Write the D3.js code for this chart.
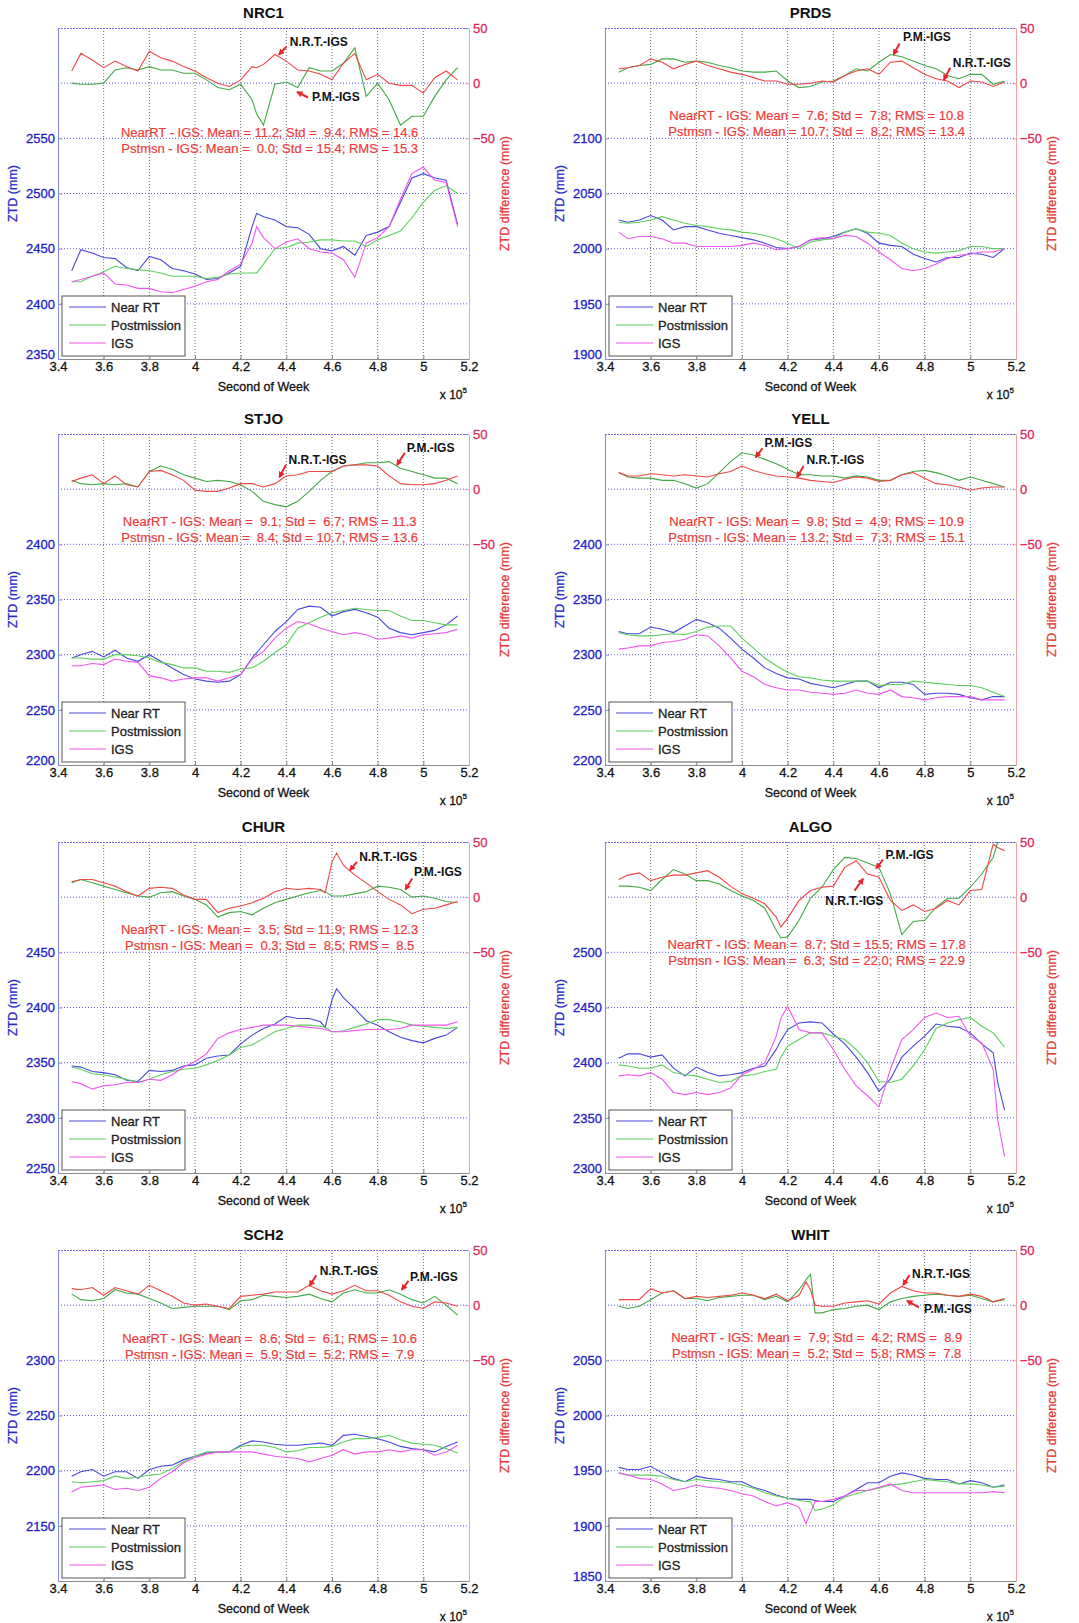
<!DOCTYPE html>
<html>
<head>
<meta charset="utf-8">
<script src="https://cdn.jsdelivr.net/npm/d3@7"></script>
<style>
  body { margin: 0; background: #fff; }
  svg text { font-family: "Liberation Sans", Arial, sans-serif; }
</style>
</head>
<body>
<script>
// ---- data (seconds of week in units of 1e5, ZTD in mm, differences in mm) ----
const secBase = [3.46,3.5,3.55,3.6,3.65,3.7,3.75,3.8,3.85,3.9,3.95,4.0,4.05,4.1,4.15,4.2,4.25,4.3,4.35,4.4,4.45,4.5,4.55,4.6,4.65,4.7,4.75,4.8,4.85,4.9,4.95,5.0,5.05,5.1,5.15];
const nrc1Sec = [3.46,3.5,3.55,3.6,3.65,3.7,3.75,3.8,3.85,3.9,3.95,4.0,4.05,4.1,4.15,4.2,4.25,4.27,4.3,4.35,4.4,4.45,4.5,4.55,4.6,4.65,4.7,4.75,4.8,4.85,4.9,4.95,5.0,5.05,5.1,5.15];
const churSec = [3.46,3.5,3.55,3.6,3.65,3.7,3.75,3.8,3.85,3.9,3.95,4.0,4.05,4.1,4.15,4.2,4.25,4.3,4.35,4.4,4.45,4.5,4.55,4.57,4.6,4.62,4.65,4.7,4.75,4.8,4.85,4.9,4.95,5.0,5.05,5.1,5.15];
const algoSec = [3.46,3.5,3.55,3.6,3.65,3.7,3.75,3.8,3.85,3.9,3.95,4.0,4.05,4.1,4.15,4.17,4.2,4.25,4.3,4.35,4.4,4.45,4.5,4.55,4.6,4.65,4.7,4.75,4.8,4.85,4.9,4.95,5.0,5.05,5.1,5.12,5.15];
const whitSec = [3.46,3.5,3.55,3.6,3.65,3.7,3.75,3.8,3.85,3.9,3.95,4.0,4.05,4.1,4.15,4.2,4.25,4.28,4.3,4.32,4.35,4.4,4.45,4.5,4.55,4.6,4.65,4.7,4.75,4.8,4.85,4.9,4.95,5.0,5.05,5.1,5.15];

const nrc1NearRT = [2430,2449,2446,2442,2441,2433,2430,2443,2440,2432,2430,2427,2422,2423,2428,2434,2470,2482,2479,2476,2470,2469,2463,2450,2448,2452,2444,2462,2465,2470,2492,2514,2518,2514,2512,2472];
const nrc1Post   = [2420,2420,2425,2429,2434,2432,2431,2430,2428,2425,2425,2425,2423,2424,2427,2428,2428,2428,2436,2450,2451,2455,2456,2458,2458,2457,2457,2452,2458,2462,2466,2478,2492,2503,2507,2500];
const nrc1IGS    = [2420,2422,2425,2428,2418,2417,2414,2414,2411,2410,2413,2416,2420,2422,2430,2436,2455,2470,2460,2450,2456,2459,2450,2447,2446,2440,2424,2455,2460,2470,2495,2518,2524,2512,2510,2470];
const nrc1NrtDiff = [11,27,21,14,20,15,11,29,23,20,15,11,5,0,-3,3,15,14,17,26,20,12,11,8,3,18,27,3,8,0,-2,-2,-9,5,11,3];
const nrc1PmDiff  = [0,-1,-1,0,12,14,12,15,12,12,9,9,3,-4,-6,-1,-15,-28,-38,-1,1,-4,14,11,11,18,32,-12,0,-15,-38,-30,-30,-12,3,14];

const prdsNearRT = [2026,2024,2026,2030,2026,2017,2020,2020,2017,2014,2012,2010,2008,2005,2001,2000,2002,2008,2009,2011,2015,2018,2014,2005,2003,2002,1995,1991,1988,1992,1992,1996,1995,1992,2000];
const prdsPost   = [2024,2023,2024,2026,2029,2026,2023,2021,2020,2018,2017,2015,2014,2012,2009,2005,2000,2006,2008,2009,2015,2018,2015,2014,2012,2005,2000,1997,1996,1997,1998,2002,2002,2000,2000];
const prdsIGS    = [2015,2009,2011,2011,2009,2005,2005,2002,2002,2002,2002,2003,2005,2003,1999,2000,2002,2008,2010,2009,2012,2011,2005,1997,1990,1982,1980,1982,1986,1991,1994,1995,1997,1997,2000];
const prdsNrtDiff = [13,14,16,22,19,13,17,20,16,13,10,8,5,2,2,-1,-1,0,2,1,7,11,13,8,19,20,14,8,4,2,-4,2,1,-3,1];
const prdsPmDiff  = [10,14,16,17,22,22,19,20,19,16,14,11,10,10,11,2,-4,-3,1,2,7,13,11,19,26,24,20,16,13,7,4,8,8,-1,2];

const stjoNearRT = [2297,2300,2303,2298,2304,2297,2294,2300,2294,2288,2282,2278,2276,2275,2276,2282,2297,2309,2321,2330,2341,2344,2343,2335,2339,2341,2338,2334,2324,2320,2318,2320,2322,2327,2335];
const stjoPost   = [2297,2297,2296,2296,2300,2300,2299,2297,2293,2291,2288,2288,2285,2285,2284,2287,2288,2294,2302,2309,2324,2329,2334,2338,2340,2342,2341,2340,2340,2335,2331,2331,2329,2327,2327];
const stjoIGS    = [2290,2290,2292,2291,2296,2294,2293,2281,2279,2276,2278,2279,2279,2276,2279,2282,2296,2303,2315,2324,2330,2328,2324,2321,2318,2320,2318,2314,2315,2317,2315,2318,2319,2320,2323];
const stjoNrtDiff = [7,10,13,5,12,4,2,16,17,13,8,-1,-2,-2,1,5,5,2,5,12,13,16,16,16,21,22,22,21,12,5,4,4,5,8,12];
const stjoPmDiff  = [8,5,4,5,4,5,2,16,21,18,13,10,7,8,7,4,-2,-11,-14,-16,-11,-2,8,16,21,22,24,24,25,19,16,13,10,10,5];

const yellNearRT = [2321,2319,2319,2325,2323,2320,2326,2332,2329,2324,2315,2305,2297,2288,2283,2279,2278,2274,2272,2270,2273,2276,2276,2270,2275,2275,2273,2264,2265,2265,2264,2261,2259,2262,2262];
const yellPost   = [2320,2318,2317,2317,2318,2319,2318,2321,2325,2326,2326,2315,2306,2297,2290,2284,2280,2279,2277,2276,2276,2276,2276,2272,2273,2273,2276,2275,2274,2273,2272,2272,2270,2266,2262];
const yellIGS    = [2305,2306,2308,2308,2311,2312,2314,2318,2317,2308,2297,2285,2280,2273,2270,2268,2268,2266,2265,2264,2265,2268,2265,2264,2268,2262,2261,2259,2261,2262,2262,2262,2259,2259,2259];
const yellNrtDiff = [15,12,12,14,13,12,13,12,11,14,16,21,17,14,12,11,10,8,7,6,9,11,10,7,8,13,15,10,5,4,2,-1,1,2,2];
const yellPmDiff  = [15,11,10,10,8,8,5,1,5,15,25,33,31,27,23,18,13,13,12,12,10,12,11,8,8,13,16,17,15,12,8,11,8,5,2];

const churNearRT = [2347,2346,2342,2341,2339,2334,2333,2343,2342,2343,2347,2348,2354,2356,2357,2367,2375,2381,2385,2392,2390,2390,2387,2382,2407,2417,2409,2399,2388,2384,2378,2373,2370,2368,2372,2375,2382];
const churPost   = [2346,2344,2340,2339,2337,2335,2332,2335,2339,2342,2344,2345,2348,2352,2357,2364,2366,2372,2378,2381,2384,2384,2383,2382,2378,2378,2379,2382,2385,2389,2389,2387,2384,2383,2382,2381,2382];
const churIGS    = [2333,2331,2326,2329,2330,2332,2332,2335,2334,2339,2346,2351,2358,2372,2377,2380,2382,2384,2384,2384,2383,2382,2381,2380,2378,2378,2378,2379,2380,2380,2380,2381,2384,2384,2384,2384,2387];
const churNrtDiff = [14,16,16,13,10,5,1,8,9,8,2,-2,-2,-14,-10,-8,-5,-1,5,8,7,8,7,4,32,40,29,20,13,5,-2,-7,-15,-11,-10,-7,-4];
const churPmDiff  = [13,16,13,10,7,4,1,0,4,5,1,-2,-7,-18,-14,-13,-16,-10,-5,-2,1,4,6,5,1,1,1,3,5,10,9,7,0,1,-1,-4,-5];

const algoNearRT = [2404,2408,2408,2405,2407,2395,2388,2396,2391,2388,2389,2391,2395,2397,2412,2420,2430,2436,2437,2436,2426,2417,2405,2391,2374,2385,2405,2415,2424,2435,2433,2432,2427,2417,2409,2382,2357];
const algoPost   = [2398,2397,2395,2395,2398,2391,2389,2388,2385,2382,2383,2388,2389,2392,2394,2405,2415,2421,2427,2427,2424,2421,2412,2400,2383,2382,2385,2397,2412,2431,2436,2439,2441,2433,2427,2422,2414];
const algoIGS    = [2388,2389,2388,2391,2385,2373,2371,2373,2371,2373,2377,2389,2394,2400,2424,2440,2451,2430,2427,2427,2412,2394,2379,2370,2360,2394,2421,2430,2441,2445,2441,2442,2424,2418,2394,2348,2315];
const algoNrtDiff = [16,20,22,15,18,20,20,22,24,18,10,3,-1,-6,-18,-27,-19,-3,6,9,10,27,33,21,18,-3,-12,-7,-13,-10,-3,-7,6,7,48,45,42];
const algoPmDiff  = [10,10,9,6,16,25,21,15,15,12,6,1,-3,-10,-30,-37,-36,-21,-1,9,25,36,35,31,27,3,-34,-22,-21,-9,-1,-1,9,21,36,50,50];

const sch2NearRT = [2195,2199,2201,2195,2199,2199,2193,2201,2204,2205,2210,2213,2216,2217,2217,2223,2227,2226,2224,2223,2223,2224,2225,2223,2232,2233,2231,2229,2226,2222,2220,2219,2217,2222,2226];
const sch2Post   = [2190,2189,2190,2191,2195,2193,2194,2196,2197,2202,2208,2213,2217,2217,2217,2222,2223,2223,2221,2217,2218,2221,2221,2222,2226,2229,2229,2230,2232,2228,2225,2224,2223,2220,2216];
const sch2IGS    = [2181,2185,2186,2187,2183,2184,2182,2185,2193,2199,2207,2212,2215,2217,2217,2217,2217,2215,2213,2212,2211,2208,2211,2214,2219,2215,2217,2217,2219,2217,2219,2219,2214,2217,2223];
const sch2NrtDiff = [15,14,16,9,16,13,10,18,13,8,2,0,1,-1,-3,8,9,10,12,12,12,18,13,10,13,18,13,13,9,3,-1,-3,3,2,-1];
const sch2PmDiff  = [10,5,4,6,14,11,10,6,2,-3,-2,-1,-1,-1,-4,4,5,9,8,7,8,10,6,3,11,14,11,11,14,10,5,2,8,0,-9];

const whitNearRT = [1953,1951,1951,1954,1948,1943,1940,1945,1943,1942,1940,1940,1935,1932,1928,1925,1924,1924,1924,1923,1922,1922,1927,1933,1939,1939,1945,1948,1946,1943,1942,1942,1938,1941,1939,1935,1937];
const whitPost   = [1948,1946,1946,1946,1945,1942,1940,1942,1941,1940,1939,1937,1934,1930,1927,1925,1923,1922,1922,1914,1915,1919,1926,1929,1932,1934,1937,1938,1940,1942,1941,1940,1938,1938,1937,1935,1936];
const whitIGS    = [1948,1946,1943,1942,1938,1932,1934,1937,1935,1934,1932,1929,1927,1922,1918,1921,1917,1902,1912,1922,1922,1924,1927,1932,1932,1935,1938,1932,1930,1930,1930,1930,1930,1930,1930,1931,1930];
const whitNrtDiff = [5,5,5,15,11,13,6,8,7,8,9,11,9,6,10,4,9,21,14,0,-1,-1,2,3,4,1,11,17,13,11,11,9,8,10,8,3,6];
const whitPmDiff  = [-1,-3,-1,5,11,13,6,6,4,7,8,9,9,5,8,3,14,23,28,-7,-7,-4,-3,-1,0,-4,3,6,8,9,10,9,8,9,6,3,5];

const stations = ["NRC1", "PRDS", "STJO", "YELL", "CHUR", "ALGO", "SCH2", "WHIT"];
const ztdFloor = [2350, 1900, 2200, 2200, 2250, 2300, 2100, 1850];
const ztdTickLabels = [
  [2350, 2400, 2450, 2500, 2550],
  [1900, 1950, 2000, 2050, 2100],
  [2200, 2250, 2300, 2350, 2400],
  [2200, 2250, 2300, 2350, 2400],
  [2250, 2300, 2350, 2400, 2450],
  [2300, 2350, 2400, 2450, 2500],
  [2150, 2200, 2250, 2300],
  [1850, 1900, 1950, 2000, 2050]
];
const secTicks = [3.4, 3.6, 3.8, 4.0, 4.2, 4.4, 4.6, 4.8, 5.0, 5.2];
const diffTicks = [-50, 0, 50];
// [mean, std, rms]
const nrtStats = [[11.2, 9.4, 14.6], [7.6, 7.8, 10.8], [9.1, 6.7, 11.3], [9.8, 4.9, 10.9], [3.5, 11.9, 12.3], [8.7, 15.5, 17.8], [8.6, 6.1, 10.6], [7.9, 4.2, 8.9]];
const pmStats  = [[0.0, 15.4, 15.3], [10.7, 8.2, 13.4], [8.4, 10.7, 13.6], [13.2, 7.3, 15.1], [0.3, 8.5, 8.5], [6.3, 22.0, 22.9], [5.9, 5.2, 7.9], [5.2, 5.8, 7.8]];
const seriesNames = ["Near RT", "Postmission", "IGS"];

const stationSec = [nrc1Sec, secBase, secBase, secBase, churSec, algoSec, secBase, whitSec];
const nearRT = [nrc1NearRT, prdsNearRT, stjoNearRT, yellNearRT, churNearRT, algoNearRT, sch2NearRT, whitNearRT];
const postmission = [nrc1Post, prdsPost, stjoPost, yellPost, churPost, algoPost, sch2Post, whitPost];
const igs = [nrc1IGS, prdsIGS, stjoIGS, yellIGS, churIGS, algoIGS, sch2IGS, whitIGS];
const nrtDiff = [nrc1NrtDiff, prdsNrtDiff, stjoNrtDiff, yellNrtDiff, churNrtDiff, algoNrtDiff, sch2NrtDiff, whitNrtDiff];
const pmDiff = [nrc1PmDiff, prdsPmDiff, stjoPmDiff, yellPmDiff, churPmDiff, algoPmDiff, sch2PmDiff, whitPmDiff];

// ---- layout ----
const W = 1079, H = 1623;
const colLeft = [58, 605], rowTop = [28, 434, 842, 1250];
const plotW = 411, plotH = 331;
// stats text level (first line centre, in difference mm)
const statsLevel = [-44.5, -29, -29.5, -29, -29, -43, -30, -29];
// callouts anchored in data units: text left/baseline, arrow tail -> tip
const callouts = [
  [{t: "N.R.T.-IGS", at: [4.415, 34], from: [4.40, 33], to: [4.368, 26]},
   {t: "P.M.-IGS", at: [4.512, -16], from: [4.495, -13], to: [4.448, -8]}],
  [{t: "P.M.-IGS", at: [4.705, 38], from: [4.69, 36], to: [4.664, 26]},
   {t: "N.R.T.-IGS", at: [4.923, 15], from: [4.912, 14], to: [4.884, 3]}],
  [{t: "N.R.T.-IGS", at: [4.41, 23], from: [4.398, 22], to: [4.37, 11]},
   {t: "P.M.-IGS", at: [4.927, 34], from: [4.919, 33], to: [4.885, 22]}],
  [{t: "P.M.-IGS", at: [4.098, 38], from: [4.09, 37], to: [4.06, 29]},
   {t: "N.R.T.-IGS", at: [4.282, 23], from: [4.27, 21], to: [4.241, 11]}],
  [{t: "N.R.T.-IGS", at: [4.719, 33], from: [4.709, 32], to: [4.679, 24.5]},
   {t: "P.M.-IGS", at: [4.959, 19], from: [4.951, 17], to: [4.922, 7]}],
  [{t: "P.M.-IGS", at: [4.629, 35], from: [4.617, 34], to: [4.588, 26]},
   {t: "N.R.T.-IGS", at: [4.365, -7], from: [4.493, 6], to: [4.53, 16.5]}],
  [{t: "N.R.T.-IGS", at: [4.546, 27], from: [4.531, 27], to: [4.502, 17.6]},
   {t: "P.M.-IGS", at: [4.942, 22], from: [4.935, 22], to: [4.906, 14]}],
  [{t: "N.R.T.-IGS", at: [4.745, 25], from: [4.734, 27.4], to: [4.706, 18.4]},
   {t: "P.M.-IGS", at: [4.797, -7], from: [4.775, -2], to: [4.723, 4]}]
];

const ztdColors = ["#4848dc", "#5cd05c", "#f055f0"];
const nrtDiffColor = "#f04646", pmDiffColor = "#44a844";
const fmt = d3.format("4.1f");

// thicken text a little, the reference type looks heavy
const heavy = (sel, color, w = 0.3) =>
  sel.attr("fill", color).attr("stroke", color).attr("stroke-width", w);

const svg = d3.select("body").append("svg").attr("width", W).attr("height", H);
const defs = svg.append("defs");
defs.append("marker")
  .attr("id", "arrow")
  .attr("viewBox", "0 0 10 10")
  .attr("refX", 8).attr("refY", 5)
  .attr("markerWidth", 3.2).attr("markerHeight", 3.2)
  .attr("orient", "auto")
  .append("path").attr("d", "M0,0L10,5L0,10z").attr("fill", "#e8242c");

stations.forEach((name, i) => {
  const col = i % 2, row = Math.floor(i / 2);
  const sec = stationSec[i];
  const g = svg.append("g").attr("transform", `translate(${colLeft[col]},${rowTop[row]})`);

  const x = d3.scaleLinear().domain([3.4, 5.2]).range([0, plotW]);
  const yL = d3.scaleLinear().domain([ztdFloor[i], ztdFloor[i] + 300]).range([plotH, 0]);
  const yR = d3.scaleLinear().domain([-250, 50]).range([plotH, 0]);

  defs.append("clipPath").attr("id", "clip" + i)
    .append("rect").attr("width", plotW).attr("height", plotH);

  // grid
  g.append("g").selectAll("line").data(secTicks.slice(1, -1)).join("line")
    .attr("x1", d => x(d)).attr("x2", d => x(d))
    .attr("y1", 0).attr("y2", plotH)
    .attr("stroke", "#5a5a5a").attr("stroke-width", 0.9)
    .attr("stroke-dasharray", "1,2");
  const gridVals = d3.range(ztdFloor[i] + 50, ztdFloor[i] + 300, 50);
  g.append("g").selectAll("line").data(gridVals).join("line")
    .attr("x1", 0).attr("x2", plotW)
    .attr("y1", d => yL(d)).attr("y2", d => yL(d))
    .attr("stroke", "#4a4af0").attr("stroke-width", 0.9)
    .attr("stroke-dasharray", "1,2");

  const plot = g.append("g").attr("clip-path", `url(#clip${i})`);
  const ztdLine = d3.line().x((d, j) => x(sec[j])).y(d => yL(d));
  const diffLine = d3.line().x((d, j) => x(sec[j])).y(d => yR(d));

  [nearRT[i], postmission[i], igs[i]].forEach((s, k) => {
    plot.append("path").datum(s)
      .attr("d", ztdLine)
      .attr("fill", "none")
      .attr("stroke", ztdColors[k])
      .attr("stroke-width", 1.1);
  });
  plot.append("path").datum(pmDiff[i])
    .attr("d", diffLine).attr("fill", "none")
    .attr("stroke", pmDiffColor).attr("stroke-width", 1.1);
  plot.append("path").datum(nrtDiff[i])
    .attr("d", diffLine).attr("fill", "none")
    .attr("stroke", nrtDiffColor).attr("stroke-width", 1.1);

  // axes
  const styleAxis = (sel, domainColor, textColor) => {
    sel.attr("font-family", null).attr("font-size", null);
    sel.select(".domain").attr("stroke", domainColor);
    sel.selectAll(".tick line").attr("stroke", domainColor);
    sel.selectAll("text").attr("font-size", 13).call(heavy, textColor);
  };

  g.append("g").attr("transform", `translate(0,${plotH})`)
    .call(d3.axisBottom(x).tickValues(secTicks).tickFormat(d3.format("~g"))
      .tickSizeInner(-4).tickSizeOuter(0).tickPadding(3))
    .call(a => styleAxis(a, "#8a8a8a", "#111"));

  g.append("g")
    .call(d3.axisLeft(yL).tickValues(ztdTickLabels[i]).tickFormat(d3.format("d"))
      .tickSizeInner(-4).tickSizeOuter(0).tickPadding(3))
    .call(a => styleAxis(a, "#8686ee", "#2020c8"))
    // lift the lowest label a little so it clears the 3.4 label
    .call(a => a.selectAll(".tick text").filter(d => d === ztdFloor[i]).attr("dy", "-0.05em"));

  g.append("g").attr("transform", `translate(${plotW},0)`)
    .call(d3.axisRight(yR).tickValues(diffTicks)
      .tickSizeInner(-4).tickSizeOuter(0).tickPadding(4))
    .call(a => styleAxis(a, "#f2a0a0", "#e0285a"));

  g.append("line").attr("x1", 0).attr("x2", plotW).attr("y1", 0.5).attr("y2", 0.5)
    .attr("stroke", "#6a6ae8").attr("stroke-width", 1.2).attr("stroke-dasharray", "2,1");

  // titles and labels
  g.append("text").attr("x", plotW / 2).attr("y", -10)
    .attr("text-anchor", "middle").attr("font-size", 15).attr("font-weight", "bold")
    .attr("fill", "#111").text(name);

  g.append("text").attr("transform", `translate(-45,${plotH / 2}) rotate(-90)`)
    .attr("dy", "0.35em").attr("text-anchor", "middle").attr("font-size", 12.5)
    .call(heavy, "#2a2ad2").text("ZTD (mm)");

  g.append("text").attr("transform", `translate(${plotW + 36},${plotH / 2}) rotate(-90)`)
    .attr("dy", "0.35em").attr("text-anchor", "middle").attr("font-size", 12.5)
    .call(heavy, "#e83c3c").text("ZTD difference (mm)");

  g.append("text").attr("x", plotW / 2).attr("y", plotH + 32)
    .attr("text-anchor", "middle").attr("font-size", 12.5)
    .call(heavy, "#111").text("Second of Week");

  const sx = g.append("text").attr("x", plotW - 2).attr("y", plotH + 40)
    .attr("text-anchor", "end").attr("font-size", 12).call(heavy, "#111");
  sx.append("tspan").text("x 10");
  sx.append("tspan").attr("dy", -6).attr("font-size", 8).text("5");

  // statistics
  const stats = g.append("text")
    .attr("text-anchor", "middle").attr("font-size", 13)
    .call(heavy, "#ee3b3b", 0.2)
    .attr("xml:space", "preserve").style("white-space", "pre");
  const cx = x(4.327), cy = yR(statsLevel[i]);
  const n = nrtStats[i], p = pmStats[i];
  stats.append("tspan").attr("x", cx).attr("y", cy).attr("dy", "0.35em")
    .text(`NearRT - IGS: Mean = ${fmt(n[0])}; Std = ${fmt(n[1])}; RMS = ${fmt(n[2])}`);
  stats.append("tspan").attr("x", cx).attr("y", cy + 16).attr("dy", "0.35em")
    .text(`Pstmsn - IGS: Mean = ${fmt(p[0])}; Std = ${fmt(p[1])}; RMS = ${fmt(p[2])}`);

  // callouts
  callouts[i].forEach(c => {
    g.append("line")
      .attr("x1", x(c.from[0])).attr("y1", yR(c.from[1]))
      .attr("x2", x(c.to[0])).attr("y2", yR(c.to[1]))
      .attr("stroke", "#e8242c").attr("stroke-width", 2)
      .attr("marker-end", "url(#arrow)");
    g.append("text").attr("x", x(c.at[0])).attr("y", yR(c.at[1]))
      .attr("font-size", 12).attr("font-weight", "bold").attr("fill", "#111")
      .text(c.t);
  });

  // legend
  const lg = g.append("g").attr("transform", `translate(4,${plotH - 63})`);
  lg.append("rect").attr("width", 123).attr("height", 60)
    .attr("fill", "#fff").attr("stroke", "#555").attr("stroke-width", 1);
  seriesNames.forEach((s, k) => {
    const yy = 11 + k * 18;
    lg.append("line").attr("x1", 7).attr("x2", 44).attr("y1", yy).attr("y2", yy)
      .attr("stroke", ztdColors[k]).attr("stroke-width", 1.2);
    lg.append("text").attr("x", 49).attr("y", yy).attr("dy", "0.36em")
      .attr("font-size", 13).call(heavy, "#222").text(s);
  });
});
</script>
</body>
</html>
